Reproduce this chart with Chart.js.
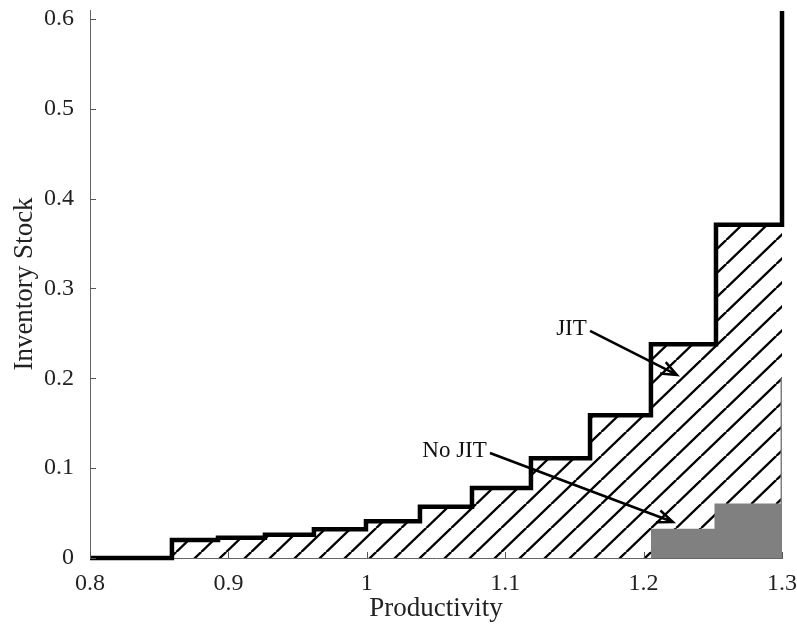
<!DOCTYPE html>
<html>
<head>
<meta charset="utf-8">
<script src="https://cdn.jsdelivr.net/npm/chart.js@4/dist/chart.umd.min.js"></script>
<style>
  html, body { margin: 0; padding: 0; background: #fff; }
  #wrap { width: 797px; height: 630px; }
</style>
</head>
<body>
<div id="wrap"><canvas id="chart" width="797" height="630"></canvas></div>
<script>
// Step breakpoints (productivity) and inventory stock, JIT economy
const jitX = [0.8, 0.8592, 0.8925, 0.9264, 0.9618, 0.9994, 1.0384, 1.0760, 1.1186, 1.1613, 1.2053, 1.2523, 1.3, 1.3];
const jitY = [0, 0.020, 0.0225, 0.026, 0.032, 0.041, 0.057, 0.078, 0.111, 0.159, 0.238, 0.371, 0.371, 0.609];

// No JIT economy (only positive above 1.2)
const noJitX = [1.2053, 1.2523, 1.3, 1.3];
const noJitY = [0.031, 0.059, 0.059, 0.2];

// Tick labels
const xTicks = [0.8, 0.9, 1.0, 1.1, 1.2, 1.3];
const yTicks = [0, 0.1, 0.2, 0.3, 0.4, 0.5, 0.6];

// Annotation labels with arrows (data coordinates)
const notes = [
    { text: 'JIT', tx: 1.1479, ty: 0.255, ax: 1.1613, ay: 0.2528, bx: 1.2241, by: 0.2038 },
    { text: 'No JIT', tx: 1.0634, ty: 0.1192, ax: 1.0890, ay: 0.1169, bx: 1.2212, by: 0.0401 }
];

const FONT = "'Liberation Serif', 'DejaVu Serif', serif";

function toPoints(xs, ys) {
    return xs.map((x, i) => ({ x: x, y: ys[i] }));
}

// Diagonal hatch pattern
function makeHatch() {
    const w = 25, h = 24, c = 1.25;
    const cv = document.createElement('canvas');
    cv.width = w;
    cv.height = h;
    const g = cv.getContext('2d');
    g.strokeStyle = '#000';
    g.lineWidth = 2.4;
    for (let k = -1; k <= 2; k++) {
        g.beginPath();
        g.moveTo(c + k * w, 0);
        g.lineTo(c + k * w - w, h);
        g.stroke();
    }
    return g.createPattern(cv, 'repeat');
}

// Inward tick marks
const tickMarks = {
    id: 'tickMarks',
    afterDraw(chart) {
        const ctx = chart.ctx;
        const { x, y } = chart.scales;
        const area = chart.chartArea;
        ctx.save();
        ctx.strokeStyle = '#555';
        ctx.lineWidth = 1;
        ctx.beginPath();
        xTicks.forEach(v => {
            const px = Math.round(x.getPixelForValue(v)) + 0.5;
            ctx.moveTo(px, area.bottom);
            ctx.lineTo(px, area.bottom - 6);
        });
        yTicks.forEach(v => {
            const py = Math.round(y.getPixelForValue(v)) + 0.5;
            ctx.moveTo(area.left, py);
            ctx.lineTo(area.left + 6, py);
        });
        ctx.stroke();
        ctx.restore();
    }
};

// Text labels with arrows
const arrowNotes = {
    id: 'arrowNotes',
    afterDatasetsDraw(chart) {
        const ctx = chart.ctx;
        const { x, y } = chart.scales;
        ctx.save();
        ctx.fillStyle = '#111';
        ctx.strokeStyle = '#000';
        ctx.lineWidth = 2.5;
        ctx.font = "23px " + FONT;
        ctx.textAlign = 'center';
        ctx.textBaseline = 'middle';
        notes.forEach(n => {
            ctx.fillText(n.text, x.getPixelForValue(n.tx), y.getPixelForValue(n.ty));
            const x0 = x.getPixelForValue(n.ax), y0 = y.getPixelForValue(n.ay);
            const x1 = x.getPixelForValue(n.bx), y1 = y.getPixelForValue(n.by);
            const ang = Math.atan2(y1 - y0, x1 - x0);
            const len = 17, spread = 0.38;
            ctx.beginPath();
            ctx.moveTo(x0, y0);
            ctx.lineTo(x1, y1);
            ctx.moveTo(x1 - len * Math.cos(ang - spread), y1 - len * Math.sin(ang - spread));
            ctx.lineTo(x1, y1);
            ctx.lineTo(x1 - len * Math.cos(ang + spread), y1 - len * Math.sin(ang + spread));
            ctx.stroke();
        });
        ctx.restore();
    }
};

const ctx = document.getElementById('chart').getContext('2d');
const chart = new Chart(ctx, {
    type: 'line',
    data: {
        datasets: [
            {
                label: 'JIT',
                data: toPoints(jitX, jitY),
                stepped: 'before',
                borderColor: '#000',
                borderWidth: 4.5,
                pointRadius: 0,
                fill: false,
                clip: false,
                order: 0
            },
            {
                label: 'No JIT',
                data: toPoints(noJitX, noJitY),
                stepped: 'before',
                borderColor: '#808080',
                backgroundColor: '#808080',
                borderWidth: 3,
                pointRadius: 0,
                fill: 'origin',
                order: 1
            },
            {
                label: 'JIT area',
                data: toPoints(jitX, jitY),
                stepped: 'before',
                borderColor: 'transparent',
                borderWidth: 0,
                backgroundColor: makeHatch(),
                pointRadius: 0,
                fill: 'origin',
                order: 2
            }
        ]
    },
    options: {
        responsive: false,
        animation: false,
        layout: { padding: { top: 10, right: 15, left: 0, bottom: 0 } },
        plugins: {
            legend: { display: false },
            tooltip: { enabled: false }
        },
        scales: {
            x: {
                type: 'linear',
                min: 0.8,
                max: 1.3,
                afterBuildTicks: s => { s.ticks = xTicks.map(v => ({ value: v })); },
                afterFit: s => { s.height = 72; s.paddingLeft = 0; s.paddingRight = 0; },
                grid: { display: false },
                border: { display: true, color: '#666', width: 1 },
                ticks: {
                    padding: 3,
                    color: '#222',
                    font: { family: FONT, size: 24 },
                    callback: v => String(Math.round(v * 10) / 10)
                },
                title: {
                    display: true,
                    text: 'Productivity',
                    color: '#222',
                    font: { family: FONT, size: 27 },
                    padding: { top: 0, bottom: 5 }
                }
            },
            y: {
                type: 'linear',
                min: 0,
                max: 0.61,
                afterBuildTicks: s => { s.ticks = yTicks.map(v => ({ value: v })); },
                afterFit: s => { s.width = 90; s.paddingTop = 0; s.paddingBottom = 0; },
                grid: { display: false },
                border: { display: true, color: '#666', width: 1 },
                ticks: {
                    padding: 8,
                    color: '#222',
                    font: { family: FONT, size: 24 },
                    callback: v => String(Math.round(v * 10) / 10)
                },
                title: {
                    display: true,
                    text: 'Inventory Stock',
                    color: '#222',
                    font: { family: FONT, size: 27 },
                    padding: { top: 9, bottom: 0 }
                }
            }
        }
    },
    plugins: [tickMarks, arrowNotes]
});
</script>
</body>
</html>
